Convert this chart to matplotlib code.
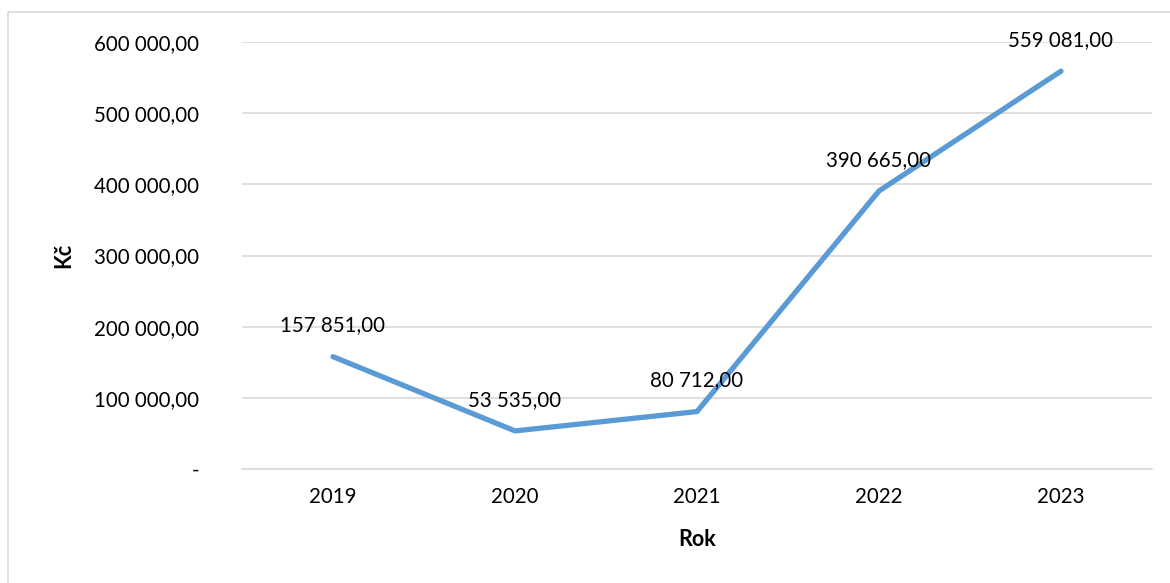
import matplotlib
matplotlib.use("Agg")
import matplotlib.pyplot as plt
import matplotlib.patches as mpatches
from matplotlib.ticker import FuncFormatter

# data
roky = ["2019", "2020", "2021", "2022", "2023"]
castky = [157851, 53535, 80712, 390665, 559081]
y_ticks = [0, 100000, 200000, 300000, 400000, 500000, 600000]

plt.rcParams['font.family'] = ['Lato', 'DejaVu Sans']


def fmt_cz(v, pos=None):
    if v == 0:
        return "-"
    s = "{:,.2f}".format(v)
    return s.replace(",", " ").replace(".", ",")


fig = plt.figure(figsize=(11.7, 5.83), dpi=100)
ax = fig.add_axes([242 / 1170, 114 / 583, 910 / 1170, 427 / 583])

# chart border like in Excel
fig.patches.append(mpatches.Rectangle((8 / 1170, -0.05), 1.2, 1.05 + (583 - 12) / 583 - 1.0,
                                      transform=fig.transFigure, fill=False,
                                      edgecolor='#D9D9D9', linewidth=1.2))

x = list(range(len(roky)))
ax.plot(x, castky, color='#5B9BD5', linewidth=3.8, solid_capstyle='round', solid_joinstyle='round')

for xi, v in zip(x, castky):
    ax.annotate(fmt_cz(v), (xi, v), xytext=(0, 22.5), textcoords='offset points',
                ha='center', va='center', fontsize=14.8, color='black')

ax.set_xlim(-0.5, len(roky) - 0.5)
ax.set_ylim(0, 600000)
ax.set_xticks(x)
ax.set_xticklabels(roky, fontsize=14.8)
ax.set_yticks(y_ticks)
ax.yaxis.set_major_formatter(FuncFormatter(fmt_cz))
ax.grid(axis='y', color='#D9D9D9', linewidth=1.2)
ax.set_axisbelow(True)
for s in ['top', 'right', 'left']:
    ax.spines[s].set_visible(False)
ax.spines['bottom'].set_color('#D9D9D9')
ax.spines['bottom'].set_linewidth(1.2)
ax.tick_params(axis='both', length=0, colors='black')
ax.tick_params(axis='y', pad=31, labelsize=14.8)
ax.tick_params(axis='x', pad=13)

ax.set_xlabel("Rok", fontsize=15.5, fontweight='bold', labelpad=16)
ax.set_ylabel("Kč", fontsize=15.5, fontweight='bold', labelpad=14)

fig.savefig("out.png", dpi=100)
